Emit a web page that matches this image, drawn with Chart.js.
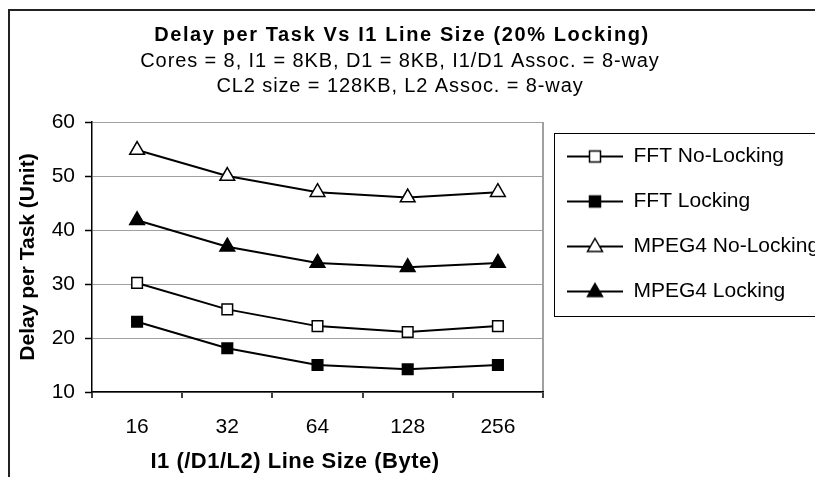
<!DOCTYPE html>
<html>
<head>
    <meta charset="utf-8" />
    <title>Delay per Task Vs I1 Line Size</title>
    <script src="https://cdn.jsdelivr.net/npm/chart.js@4.4.1/dist/chart.umd.min.js"></script>
    <style>
        html, body { margin: 0; padding: 0; background: #fff; }
    </style>
</head>
<body>

<canvas id="delay" width="815" height="477"></canvas>

<script>
    // donnees
    var lineSizes = ["16", "32", "64", "128", "256"];
    var fftNoLocking = [30.2, 25.3, 22.2, 21.1, 22.2];
    var fftLocking = [23.0, 18.1, 15.0, 14.2, 15.0];
    var mpegNoLocking = [54.8, 50.0, 47.0, 46.0, 47.0];
    var mpegLocking = [41.8, 36.9, 33.9, 33.1, 33.9];
    var yTicks = [10, 20, 30, 40, 50, 60];

    var titleLines = [
        "Delay per Task Vs I1 Line Size (20% Locking)",
        "Cores = 8, I1 = 8KB, D1 = 8KB, I1/D1 Assoc. = 8-way",
        "CL2 size = 128KB, L2 Assoc. = 8-way"
    ];
    var xTitle = "I1 (/D1/L2) Line Size (Byte)";
    var yTitle = "Delay per Task (Unit)";

    var fontFamily = "'Liberation Sans', Arial, sans-serif";
    Chart.defaults.font.family = fontFamily;
    Chart.defaults.color = "#000";

    // petit dessin ligne + marqueur pour la legende
    function legendSample(style, fill) {
        var c = document.createElement("canvas");
        c.width = 56;
        c.height = 20;
        var g = c.getContext("2d");
        g.strokeStyle = "#000";
        g.lineWidth = 2;
        g.beginPath();
        g.moveTo(0, 10);
        g.lineTo(56, 10);
        g.stroke();
        g.fillStyle = fill;
        g.lineWidth = 1.5;
        g.beginPath();
        if (style === "rect") {
            g.rect(22.5, 4.5, 11, 11);
        } else {
            g.moveTo(28, 2);
            g.lineTo(35.5, 15);
            g.lineTo(20.5, 15);
            g.closePath();
        }
        g.fill();
        g.stroke();
        return c;
    }

    var samples = [
        legendSample("rect", "#fff"),
        legendSample("rect", "#000"),
        legendSample("triangle", "#fff"),
        legendSample("triangle", "#000")
    ];

    var frame = {
        id: "frame",
        beforeDraw: function (chart) {
            var ctx = chart.ctx;
            ctx.save();
            ctx.fillStyle = "#fff";
            ctx.fillRect(0, 0, chart.width, chart.height);
            ctx.strokeStyle = "#222";
            ctx.lineWidth = 2;
            ctx.strokeRect(9, 10, chart.width, chart.height);
            ctx.restore();
        },
        afterDraw: function (chart) {
            var ctx = chart.ctx;
            var area = chart.chartArea;
            var lg = chart.legend;
            ctx.save();
            // cadre de la legende
            ctx.strokeStyle = "#000";
            ctx.lineWidth = 1;
            ctx.strokeRect(lg.left + 11.5, area.top + 11.5, 400, 183);

            // titres
            ctx.fillStyle = "#000";
            ctx.textAlign = "center";
            ctx.textBaseline = "middle";
            ctx.letterSpacing = "1.6px";
            ctx.font = "bold 20px " + fontFamily;
            ctx.fillText(titleLines[0], 402, 35);
            ctx.letterSpacing = "0.9px";
            ctx.font = "20px " + fontFamily;
            ctx.fillText(titleLines[1], 400, 61);
            ctx.fillText(titleLines[2], 400, 86);

            // titre axe x
            ctx.letterSpacing = "0.5px";
            ctx.font = "bold 22px " + fontFamily;
            ctx.fillText(xTitle, 295, 462);
            ctx.restore();
        }
    };

    var ctx = document.getElementById("delay").getContext("2d");
    var delayChart = new Chart(ctx, {
        type: "line",
        data: {
            labels: lineSizes,
            datasets: [
                {
                    label: "FFT No-Locking",
                    data: fftNoLocking,
                    pointStyle: "rect",
                    pointRadius: 7.5,
                    pointBackgroundColor: "#fff"
                },
                {
                    label: "FFT Locking",
                    data: fftLocking,
                    pointStyle: "rect",
                    pointRadius: 7.5,
                    pointBackgroundColor: "#000"
                },
                {
                    label: "MPEG4 No-Locking",
                    data: mpegNoLocking,
                    pointStyle: "triangle",
                    pointRadius: 8.5,
                    pointBackgroundColor: "#fff"
                },
                {
                    label: "MPEG4 Locking",
                    data: mpegLocking,
                    pointStyle: "triangle",
                    pointRadius: 8.5,
                    pointBackgroundColor: "#000"
                }
            ]
        },
        options: {
            responsive: false,
            animation: false,
            layout: { padding: { top: 122, left: 0, right: 0, bottom: 0 } },
            elements: {
                line: { borderColor: "#000", borderWidth: 2, tension: 0, fill: false },
                point: { borderColor: "#000", borderWidth: 1.5, hoverRadius: 8 }
            },
            plugins: {
                title: { display: false },
                tooltip: { enabled: false },
                legend: {
                    position: "right",
                    align: "start",
                    fullSize: false,
                    maxWidth: 272,
                    labels: {
                        usePointStyle: true,
                        pointStyleWidth: 56,
                        padding: 24,
                        font: { size: 21 },
                        color: "#000",
                        generateLabels: function (chart) {
                            return chart.data.datasets.map(function (ds, i) {
                                return {
                                    text: ds.label,
                                    pointStyle: samples[i],
                                    datasetIndex: i,
                                    fillStyle: ds.pointBackgroundColor,
                                    strokeStyle: "#000",
                                    lineWidth: 0,
                                    hidden: false
                                };
                            });
                        }
                    }
                }
            },
            scales: {
                x: {
                    offset: true,
                    afterFit: function (scale) { scale.height = 85; },
                    grid: {
                        offset: true,
                        drawOnChartArea: true,
                        color: function (c) { return c.index === undefined ? "#a0a0a0" : "rgba(0,0,0,0)"; },
                        lineWidth: 2,
                        tickLength: 6,
                        tickColor: "#000",
                        tickWidth: 1.5
                    },
                    border: { color: "#000", width: 1.5 },
                    ticks: { font: { size: 21 }, color: "#000", padding: 17, maxRotation: 0 }
                },
                y: {
                    min: yTicks[0],
                    max: yTicks[yTicks.length - 1],
                    afterFit: function (scale) { scale.width = 92; },
                    grid: {
                        color: "#a0a0a0",
                        lineWidth: 1,
                        tickLength: 7,
                        tickColor: "#000",
                        tickWidth: 1.5
                    },
                    border: { color: "#000", width: 1.5 },
                    ticks: { stepSize: 10, font: { size: 21 }, color: "#000", padding: 10 },
                    title: {
                        display: true,
                        text: yTitle,
                        font: { size: 21, weight: "bold" },
                        color: "#000",
                        padding: { top: 16, bottom: 0 }
                    }
                }
            }
        },
        plugins: [frame]
    });
</script>

</body>
</html>
